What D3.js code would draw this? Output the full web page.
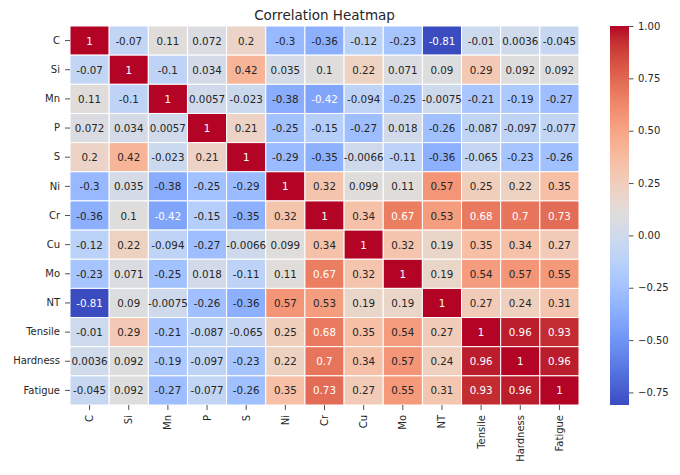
<!DOCTYPE html>
<html><head><meta charset="utf-8">
<script src="https://cdn.jsdelivr.net/npm/d3@7"></script>
<style>body{margin:0;background:#fff}svg{display:block;font-family:"DejaVu Sans",sans-serif}</style>
</head><body><svg id="c" width="680" height="475"></svg>
<script>
const labels = ["C","Si","Mn","P","S","Ni","Cr","Cu","Mo","NT","Tensile","Hardness","Fatigue"];
const rowC        = [1, -0.07, 0.11, 0.072, 0.2, -0.3, -0.36, -0.12, -0.23, -0.81, -0.01, 0.0036, -0.045];
const rowSi       = [-0.07, 1, -0.1, 0.034, 0.42, 0.035, 0.1, 0.22, 0.071, 0.09, 0.29, 0.092, 0.092];
const rowMn       = [0.11, -0.1, 1, 0.0057, -0.023, -0.38, -0.42, -0.094, -0.25, -0.0075, -0.21, -0.19, -0.27];
const rowP        = [0.072, 0.034, 0.0057, 1, 0.21, -0.25, -0.15, -0.27, 0.018, -0.26, -0.087, -0.097, -0.077];
const rowS        = [0.2, 0.42, -0.023, 0.21, 1, -0.29, -0.35, -0.0066, -0.11, -0.36, -0.065, -0.23, -0.26];
const rowNi       = [-0.3, 0.035, -0.38, -0.25, -0.29, 1, 0.32, 0.099, 0.11, 0.57, 0.25, 0.22, 0.35];
const rowCr       = [-0.36, 0.1, -0.42, -0.15, -0.35, 0.32, 1, 0.34, 0.67, 0.53, 0.68, 0.7, 0.73];
const rowCu       = [-0.12, 0.22, -0.094, -0.27, -0.0066, 0.099, 0.34, 1, 0.32, 0.19, 0.35, 0.34, 0.27];
const rowMo       = [-0.23, 0.071, -0.25, 0.018, -0.11, 0.11, 0.67, 0.32, 1, 0.19, 0.54, 0.57, 0.55];
const rowNT       = [-0.81, 0.09, -0.0075, -0.26, -0.36, 0.57, 0.53, 0.19, 0.19, 1, 0.27, 0.24, 0.31];
const rowTensile  = [-0.01, 0.29, -0.21, -0.087, -0.065, 0.25, 0.68, 0.35, 0.54, 0.27, 1, 0.96, 0.93];
const rowHardness = [0.0036, 0.092, -0.19, -0.097, -0.23, 0.22, 0.7, 0.34, 0.57, 0.24, 0.96, 1, 0.96];
const rowFatigue  = [-0.045, 0.092, -0.27, -0.077, -0.26, 0.35, 0.73, 0.27, 0.55, 0.31, 0.93, 0.96, 1];
const colorbarTicks = [-0.75, -0.5, -0.25, 0, 0.25, 0.5, 0.75, 1];
const title = "Correlation Heatmap";

const matrix = [rowC,rowSi,rowMn,rowP,rowS,rowNi,rowCr,rowCu,rowMo,rowNT,rowTensile,rowHardness,rowFatigue];

// matplotlib coolwarm (Moreland) lookup
const cw = [[59,76,192],[68,90,204],[77,104,215],[87,117,225],[98,130,234],[108,142,241],[119,154,247],[130,165,251],[141,176,254],[152,185,255],[163,194,255],[174,201,253],[184,208,249],[194,213,244],[204,217,238],[213,219,230],[221,221,221],[229,216,209],[236,211,197],[241,204,185],[245,196,173],[247,187,160],[247,177,148],[247,166,135],[244,154,123],[241,141,111],[236,127,99],[229,112,88],[222,96,77],[213,80,66],[203,62,56],[192,40,47],[180,4,38]];
const coolwarm = d3.piecewise(d3.interpolateRgb, cw.map(c=>d3.rgb(c[0],c[1],c[2])));

const cells = [];
matrix.forEach((row,i)=>row.forEach((v,j)=>cells.push({r:labels[i],c:labels[j],v})));
const vmin = d3.min(cells, d=>d.v), vmax = d3.max(cells, d=>d.v);
const norm = d3.scaleLinear().domain([vmin, vmax]).range([0,1]).clamp(true);
const color = v => coolwarm(norm(v));

const L = 70, R = 579, T = 26, B = 405;
const x = d3.scaleBand().domain(labels).range([L, R]);
const y = d3.scaleBand().domain(labels).range([T, B]);

const svg = d3.select("#c");
const fmt = d3.formatLocale({decimal:".",thousands:",",grouping:[3],currency:["",""],minus:"-"}).format(".2~g");

function lum(c){
  const rgb = d3.rgb(c);
  const f = u => { u/=255; return u<=0.03928 ? u/12.92 : Math.pow((u+0.055)/1.055,2.4); };
  return 0.2126*f(rgb.r)+0.7152*f(rgb.g)+0.0722*f(rgb.b);
}

svg.append("g").selectAll("rect").data(cells).join("rect")
  .attr("x", d=>x(d.c)).attr("y", d=>y(d.r))
  .attr("width", x.bandwidth()).attr("height", y.bandwidth())
  .attr("fill", d=>color(d.v)).attr("stroke","#fff").attr("stroke-width",1);

svg.append("g").selectAll("text").data(cells).join("text")
  .attr("x", d=>x(d.c)+x.bandwidth()/2).attr("y", d=>y(d.r)+y.bandwidth()/2)
  .attr("text-anchor","middle").attr("dominant-baseline","central")
  .attr("font-size",10.3)
  .attr("fill", d=> lum(color(d.v))>0.408 ? "#262626" : "#fff")
  .text(d=>fmt(d.v));

// y axis
const ya = svg.append("g").attr("transform",`translate(${L},0)`)
  .call(d3.axisLeft(y).tickSize(5).tickPadding(5));
ya.select(".domain").remove();
ya.selectAll("text").attr("font-size",10).attr("fill","#262626").attr("font-family","DejaVu Sans");
ya.selectAll("line").attr("stroke","#262626").attr("stroke-width",0.8);

// x axis
const xa = svg.append("g").attr("transform",`translate(0,${B})`)
  .call(d3.axisBottom(x).tickSize(5).tickPadding(5));
xa.select(".domain").remove();
xa.selectAll("line").attr("stroke","#262626").attr("stroke-width",0.8);
xa.selectAll("text").attr("font-size",10).attr("fill","#262626").attr("font-family","DejaVu Sans")
  .attr("transform","rotate(-90)").attr("text-anchor","end")
  .attr("x",-10).attr("y",0).attr("dy","0.35em");

// title
svg.append("text").attr("x",(L+R)/2).attr("y",20).attr("text-anchor","middle")
  .attr("font-size",13.5).attr("fill","#262626").text(title);

// colorbar
const cbX = 610, cbW = 19;
const cy = d3.scaleLinear().domain([vmin, vmax]).range([B, T]);
const defs = svg.append("defs");
const grad = defs.append("linearGradient").attr("id","cbg").attr("x1",0).attr("y1",1).attr("x2",0).attr("y2",0);
d3.range(0,1.0001,0.02).forEach(t=>grad.append("stop").attr("offset",t).attr("stop-color",coolwarm(t)));
svg.append("rect").attr("x",cbX).attr("y",T).attr("width",cbW).attr("height",B-T).attr("fill","url(#cbg)");
const ca = svg.append("g").attr("transform",`translate(${cbX+cbW},0)`)
  .call(d3.axisRight(cy).tickValues(colorbarTicks).tickFormat(d3.format(".2f")).tickSize(4.5).tickPadding(4.5));
ca.select(".domain").remove();
ca.selectAll("line").attr("stroke","#262626").attr("stroke-width",0.8);
ca.selectAll("text").attr("font-size",10).attr("fill","#262626").attr("font-family","DejaVu Sans");
</script></body></html>
